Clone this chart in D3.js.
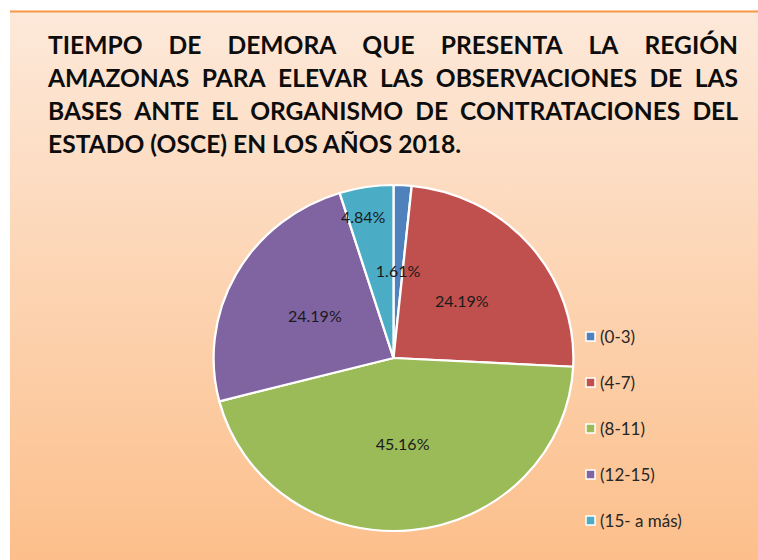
<!DOCTYPE html>
<html>
<head>
<meta charset="utf-8">
<script src="https://cdn.jsdelivr.net/npm/d3@7"></script>
<style>
  html, body { margin: 0; padding: 0; background: #fff; }
  svg { display: block; }
</style>
</head>
<body>
<div id="chart"></div>
<script>
var categories = ['(0-3)', '(4-7)', '(8-11)', '(12-15)', '(15- a más)'];
var counts = [1, 15, 28, 15, 3];
var percentLabels = ['1.61%', '24.19%', '45.16%', '24.19%', '4.84%'];
var colors = ['#4f81bd', '#c0504d', '#9bbb59', '#8064a2', '#4bacc6'];
var titleLines = [
  'TIEMPO DE DEMORA QUE PRESENTA LA REGIÓN',
  'AMAZONAS PARA ELEVAR LAS OBSERVACIONES DE LAS',
  'BASES ANTE EL ORGANISMO DE CONTRATACIONES DEL',
  'ESTADO (OSCE) EN LOS AÑOS 2018.'
];

var width = 758;
var height = 560;

var svg = d3.select('#chart')
            .append('svg')
            .attr('width', width)
            .attr('height', height);

var defs = svg.append('defs');
var grad = defs.append('linearGradient')
               .attr('id', 'bg')
               .attr('x1', 0).attr('y1', 0)
               .attr('x2', 0).attr('y2', 1);
grad.append('stop').attr('offset', '0%').attr('stop-color', '#fde9da');
grad.append('stop').attr('offset', '100%').attr('stop-color', '#fcbf8b');

svg.append('rect')
   .attr('x', 10).attr('y', 11)
   .attr('width', width - 10).attr('height', height - 11)
   .attr('fill', 'url(#bg)');

svg.append('line')
   .attr('x1', 10).attr('x2', width)
   .attr('y1', 11.5).attr('y2', 11.5)
   .attr('stroke', '#f79646')
   .attr('stroke-width', 2);

// title, justified between left and right margins
var titleLeft = 48;
var titleRight = 738;
var title = svg.append('g')
               .attr('font-family', 'Lato, "Open Sans", sans-serif')
               .attr('font-weight', 'bold')
               .attr('font-size', 24.6)
               .attr('fill', '#0d0d0d');

titleLines.forEach(function(line, i) {
  var y = 54 + i * 33;
  var words = line.split(' ');
  if (i === titleLines.length - 1) {
    title.append('text').attr('x', titleLeft).attr('y', y).text(line);
    return;
  }
  var nodes = words.map(function(w) {
    return title.append('text').attr('y', y).text(w);
  });
  var total = d3.sum(nodes, function(n) { return n.node().getComputedTextLength(); });
  var gap = (titleRight - titleLeft - total) / (words.length - 1);
  var x = titleLeft;
  nodes.forEach(function(n) {
    n.attr('x', x);
    x += n.node().getComputedTextLength() + gap;
  });
});

// pie
var cx = 393.5;
var cy = 358;
var radius = 173;

var pie = d3.pie()
            .value(d => d)
            .sort(null);

var arcs = pie(counts);

var arc = d3.arc()
            .innerRadius(0)
            .outerRadius(radius);

var g = svg.append('g')
           .attr('transform', 'translate(' + cx + ',' + cy + ') scale(1.04,1)');

g.selectAll('path')
 .data(arcs)
 .enter()
 .append('path')
 .attr('d', arc)
 .attr('fill', (d, i) => colors[i])
 .attr('stroke', '#fff')
 .attr('stroke-width', 2.2)
 .attr('stroke-linejoin', 'round');

var labelArc = d3.arc().innerRadius(radius * 0.5).outerRadius(radius * 0.5);
var outerLabelArc = d3.arc().innerRadius(radius * 0.82).outerRadius(radius * 0.82);

var labels = svg.append('g')
                .attr('transform', 'translate(' + cx + ',' + cy + ')')
                .attr('font-family', 'Lato, "Open Sans", sans-serif')
                .attr('font-size', 16)
                .attr('fill', '#1a1a1a');

labels.selectAll('text')
      .data(arcs)
      .enter()
      .append('text')
      .attr('text-anchor', 'middle')
      .attr('dy', '.35em')
      .attr('x', (d, i) => (i === 4 ? outerLabelArc : labelArc).centroid(d)[0] * 1.04 - (i === 4 ? 8 : 0))
      .attr('y', (d, i) => (i === 4 ? outerLabelArc : labelArc).centroid(d)[1])
      .text((d, i) => percentLabels[i]);

// legend
var legendY = d3.scalePoint()
                .domain(categories)
                .range([337, 521]);

var legend = svg.append('g')
                .attr('font-family', 'Lato, "Open Sans", sans-serif')
                .attr('font-size', 17)
                .attr('fill', '#262626');

var item = legend.selectAll('g')
                 .data(categories)
                 .enter()
                 .append('g')
                 .attr('transform', d => 'translate(586,' + legendY(d) + ')');

item.append('rect')
    .attr('x', 0).attr('y', -5)
    .attr('width', 9).attr('height', 9)
    .attr('fill', (d, i) => colors[i])
    .attr('stroke', '#fff')
    .attr('stroke-width', 1.5);

item.append('text')
    .attr('x', 14)
    .attr('dy', '.35em')
    .text(d => d);
</script>
</body>
</html>
